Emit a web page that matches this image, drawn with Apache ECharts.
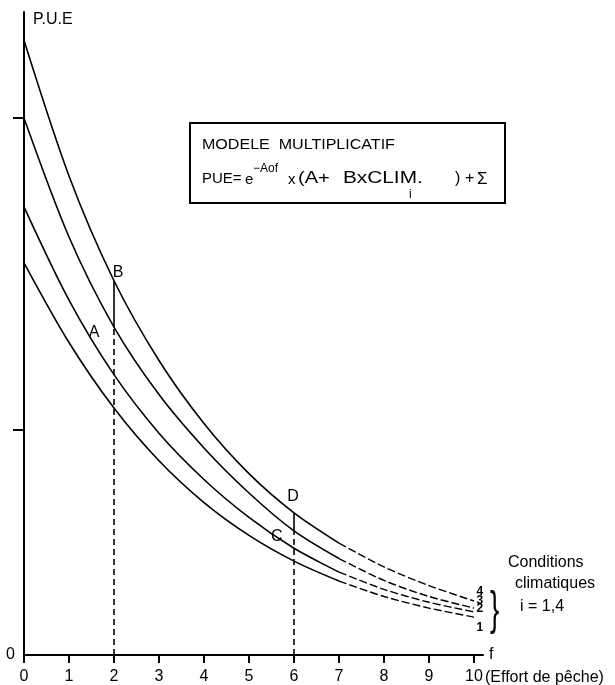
<!DOCTYPE html>
<html><head><meta charset="utf-8">
<script src="https://cdn.jsdelivr.net/npm/echarts@6/dist/echarts.min.js"></script>
<style>html,body{margin:0;padding:0;background:#fff}#c{width:615px;height:685px}</style>
</head><body><div id="c"></div>
<script>
// ---- data ----
const effort = [0, 1, 2, 3, 4, 5, 6, 7, 8, 9, 10];
const pue1 = [61.0, 48.6, 38.4, 30.2, 23.7, 18.6, 14.6, 11.5, 9.1, 7.3, 5.9];
const pue2 = [69.7, 55.2, 43.6, 34.5, 27.3, 21.4, 16.6, 12.9, 10.2, 8.2, 6.7];
const pue3 = [83.5, 65.0, 51.0, 40.5, 32.2, 25.2, 19.3, 15.0, 11.6, 9.1, 7.3];
const pue4 = [95.6, 74.5, 58.2, 45.8, 36.0, 28.2, 22.1, 17.4, 13.7, 10.8, 8.4];
const xTickLabels = ['0', '1', '2', '3', '4', '5', '6', '7', '8', '9', '10'];
const yTickValues = [35.1, 83.5];
const yLabelValues = [0];
const solidUntil = 7;
const refEfforts = [2, 6];
const pointNames = ['A', 'B', 'C', 'D'];
const pointX = [1.56, 2.09, 5.62, 5.98];
const pointY = [50.2, 59.4, 18.4, 24.6];
const curveTags = ['4', '3', '2', '1'];
const curveTagX = [10.13, 10.13, 10.13, 10.13];
const curveTagY = [9.8, 8.4, 7.2, 4.2];

// ---- chart ----
const ink = '#000';
const font = 'Liberation Sans';
const chart = echarts.init(document.getElementById('c'), null, {renderer: 'canvas'});
const curves = [pue1, pue2, pue3, pue4];
const series = [];
curves.forEach(arr => {
  const pts = effort.map((x, i) => [x, arr[i]]);
  series.push({type: 'line', data: pts.filter(p => p[0] <= solidUntil), smooth: 0.3, symbol: 'none',
    lineStyle: {color: ink, width: 1.6}, silent: true});
  series.push({type: 'line', data: pts.filter(p => p[0] >= solidUntil), smooth: 0.3, symbol: 'none',
    lineStyle: {color: ink, width: 1.4, type: [8, 3]}, silent: true});
});
refEfforts.forEach(e => {
  const i = effort.indexOf(e);
  series.push({type: 'line', data: [[e, 0], [e, pue3[i]]], symbol: 'none',
    lineStyle: {color: ink, width: 1.6, type: [6, 4]}, silent: true});
  series.push({type: 'line', data: [[e, pue3[i]], [e, pue4[i]]], symbol: 'none',
    lineStyle: {color: ink, width: 1.6}, silent: true});
});

const txt = (x, y, text, size, extra) => Object.assign({type: 'text', x: x, y: y, silent: true,
  style: {text: text, fontSize: size, fontFamily: font, fill: ink, verticalAlign: 'middle', align: 'left'}}, extra || {});

const staticGraphic = [
  {type: 'rect', silent: true, shape: {x: 190, y: 123, width: 315, height: 80},
    style: {fill: 'none', stroke: ink, lineWidth: 2}},
  txt(202, 145, 'MODELE  MULTIPLICATIF', 15, {scaleX: 1.07}),
  txt(202, 179, 'PUE=', 15),
  txt(245, 180, 'e', 15),
  txt(253, 169, '\u2212Aof', 12),
  txt(288, 180, 'x', 15),
  txt(298, 179, '(A+', 16, {scaleX: 1.25}),
  txt(343, 179, 'BxCLIM.', 16, {scaleX: 1.3}),
  txt(409, 195, 'i', 12),
  txt(455, 179, ')', 16),
  txt(465, 179, '+', 16),
  txt(477, 179, '\u03a3', 17),
  txt(485, 678, '(Effort de p\u00eache)', 16),
  txt(508, 563, 'Conditions', 16),
  txt(515, 584, 'climatiques', 16),
  txt(520, 607, 'i = 1,4', 16),
  txt(490, 611, '}', 46, {scaleX: 0.6})
];

chart.setOption({
  animation: false,
  backgroundColor: '#fff',
  grid: {left: 24, top: 12, right: 132, bottom: 30},
  xAxis: {
    type: 'value', min: 0, max: 10.2,
    name: 'f', nameLocation: 'end', nameGap: 6,
    nameTextStyle: {fontSize: 16, color: ink, fontFamily: font, padding: [0, 0, 12, 0]},
    axisLine: {lineStyle: {color: ink, width: 2}},
    axisTick: {customValues: effort, length: 8, lineStyle: {color: ink, width: 2}},
    axisLabel: {customValues: effort, formatter: v => xTickLabels[effort.indexOf(v)], margin: 14,
      fontSize: 16, color: ink, fontFamily: font},
    splitLine: {show: false}
  },
  yAxis: {
    type: 'value', min: 0, max: 100,
    name: 'P.U.E', nameLocation: 'end', nameGap: -8,
    nameTextStyle: {fontSize: 16, color: ink, fontFamily: font, align: 'left', verticalAlign: 'middle', padding: [0, 0, 0, 9]},
    axisLine: {show: true, lineStyle: {color: ink, width: 2}},
    axisTick: {customValues: yTickValues, length: 11, lineStyle: {color: ink, width: 2}},
    axisLabel: {customValues: yLabelValues, formatter: () => '0', margin: 9, fontSize: 16, color: ink, fontFamily: font},
    splitLine: {show: false}
  },
  graphic: staticGraphic,
  series: series
});

// annotation letters placed in data coordinates through the chart's own scales
const dataText = (names, xs, ys, size, weight) => names.map((n, i) => {
  const p = chart.convertToPixel({gridIndex: 0}, [xs[i], ys[i]]);
  return {type: 'text', x: p[0], y: p[1], silent: true,
    style: {text: n, fontSize: size, fontWeight: weight, fontFamily: font, fill: ink, align: 'center', verticalAlign: 'middle'}};
});
chart.setOption({graphic: staticGraphic.concat(
  dataText(pointNames, pointX, pointY, 16, 'normal'),
  dataText(curveTags, curveTagX, curveTagY, 12, 'bold'))});
</script>
</body></html>
